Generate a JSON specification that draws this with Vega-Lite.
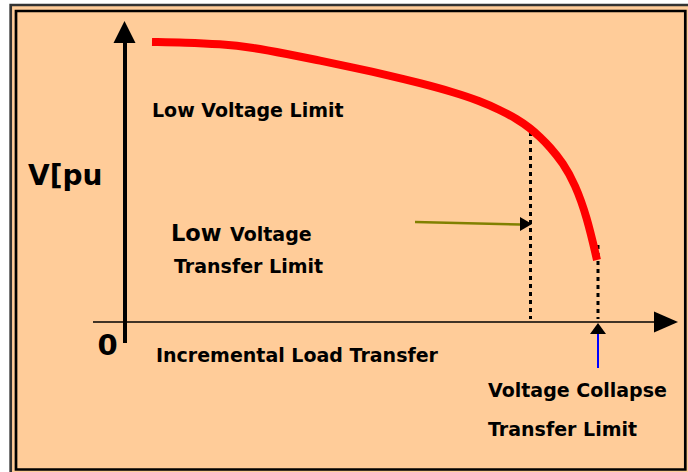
{
  "$schema": "https://vega.github.io/schema/vega-lite/v6.json",
  "width": 688,
  "height": 472,
  "padding": 0,
  "autosize": {"type": "fit", "contains": "padding"},
  "background": "white",
  "config": {"view": {"stroke": null}},
  "datasets": {
    "frameOuter": [{"load": -114.3, "v": 317, "load2": 600, "v2": -170}],
    "frameInner": [{"load": -109, "v": 311, "load2": 560.3, "v2": -147.5}],
    "limits": [
      {"name": "Low Voltage Transfer Limit", "load": 405.5, "v": 190, "load2": 405.5, "v2": 3},
      {"name": "Voltage Collapse Transfer Limit", "load": 473, "v": 77, "load2": 473, "v2": 3}
    ],
    "pv": [
      {"load": 27, "v": 280}, {"load": 60, "v": 279.5}, {"load": 95, "v": 278},
      {"load": 128, "v": 274.5}, {"load": 162, "v": 268}, {"load": 195, "v": 261.5},
      {"load": 228, "v": 254.5}, {"load": 262, "v": 247}, {"load": 295, "v": 239},
      {"load": 328, "v": 230}, {"load": 355, "v": 221}, {"load": 375, "v": 212},
      {"load": 392, "v": 203}, {"load": 405, "v": 194}, {"load": 415, "v": 185},
      {"load": 425, "v": 175}, {"load": 438, "v": 159}, {"load": 450, "v": 138},
      {"load": 462, "v": 105}, {"load": 472, "v": 62}
    ],
    "xAxis": [{"load": -32, "v": 0, "load2": 535, "v2": 0}],
    "yAxis": [{"load": 0, "v": -21, "load2": 0, "v2": 282}],
    "pointer": [{"load": 290, "v": 100, "load2": 395, "v2": 97.5}],
    "collapsePointer": [{"load": 473, "v": -12, "load2": 473, "v2": -46}],
    "headRight": [{"load": 541, "v": 0}],
    "headUp": [{"load": -0.5, "v": 290}],
    "headPointer": [{"load": 401, "v": 98}],
    "headCollapse": [{"load": 473, "v": -6.5}],
    "big": [
      {"label": "V[pu", "load": -97, "v": 137}
    ],
    "zero": [
      {"label": "0", "load": -17.5, "v": -33}
    ],
    "low": [
      {"label": "Low", "load": 46, "v": 81}
    ],
    "labels": [
      {"label": "Low Voltage Limit", "load": 27, "v": 205},
      {"label": "Voltage", "load": 105, "v": 81},
      {"label": "Transfer Limit", "load": 49, "v": 49},
      {"label": "Incremental Load Transfer", "load": 31, "v": -40},
      {"label": "Voltage Collapse", "load": 363, "v": -75},
      {"label": "Transfer Limit", "load": 363, "v": -114}
    ]
  },
  "layer": [
    {
      "data": {"name": "frameOuter"},
      "mark": {"type": "rect", "fill": "#FFCC99", "stroke": "#333333", "strokeWidth": 2.7, "clip": true},
      "encoding": {
        "x": {"field": "load", "type": "quantitative", "scale": {"domain": [-125, 563], "nice": false, "zero": false}, "axis": null},
        "x2": {"field": "load2"},
        "y": {"field": "v", "type": "quantitative", "scale": {"domain": [-150, 322], "nice": false, "zero": false}, "axis": null},
        "y2": {"field": "v2"}
      }
    },
    {
      "data": {"name": "frameInner"},
      "mark": {"type": "rect", "fill": null, "fillOpacity": 0, "stroke": "#000000", "strokeWidth": 2.7},
      "encoding": {
        "x": {"field": "load", "type": "quantitative", "scale": {"domain": [-125, 563], "nice": false, "zero": false}, "axis": null},
        "x2": {"field": "load2"},
        "y": {"field": "v", "type": "quantitative", "scale": {"domain": [-150, 322], "nice": false, "zero": false}, "axis": null},
        "y2": {"field": "v2"}
      }
    },
    {
      "data": {"name": "limits"},
      "mark": {"type": "rule", "color": "#000000", "strokeWidth": 3, "strokeDash": [4, 4]},
      "encoding": {
        "x": {"field": "load", "type": "quantitative", "scale": {"domain": [-125, 563], "nice": false, "zero": false}, "axis": null},
        "x2": {"field": "load2"},
        "y": {"field": "v", "type": "quantitative", "scale": {"domain": [-150, 322], "nice": false, "zero": false}, "axis": null},
        "y2": {"field": "v2"}
      }
    },
    {
      "data": {"name": "pv"},
      "mark": {"type": "line", "color": "#FF0000", "strokeWidth": 8, "interpolate": "basis", "strokeCap": "butt"},
      "encoding": {
        "x": {"field": "load", "type": "quantitative", "scale": {"domain": [-125, 563], "nice": false, "zero": false}, "axis": null},
        "y": {"field": "v", "type": "quantitative", "scale": {"domain": [-150, 322], "nice": false, "zero": false}, "axis": null}
      }
    },
    {
      "data": {"name": "xAxis"},
      "mark": {"type": "rule", "color": "#000000", "strokeWidth": 1.5},
      "encoding": {
        "x": {"field": "load", "type": "quantitative", "scale": {"domain": [-125, 563], "nice": false, "zero": false}, "axis": null},
        "x2": {"field": "load2"},
        "y": {"field": "v", "type": "quantitative", "scale": {"domain": [-150, 322], "nice": false, "zero": false}, "axis": null},
        "y2": {"field": "v2"}
      }
    },
    {
      "data": {"name": "yAxis"},
      "mark": {"type": "rule", "color": "#000000", "strokeWidth": 4},
      "encoding": {
        "x": {"field": "load", "type": "quantitative", "scale": {"domain": [-125, 563], "nice": false, "zero": false}, "axis": null},
        "x2": {"field": "load2"},
        "y": {"field": "v", "type": "quantitative", "scale": {"domain": [-150, 322], "nice": false, "zero": false}, "axis": null},
        "y2": {"field": "v2"}
      }
    },
    {
      "data": {"name": "pointer"},
      "mark": {"type": "rule", "color": "#808000", "strokeWidth": 2.5},
      "encoding": {
        "x": {"field": "load", "type": "quantitative", "scale": {"domain": [-125, 563], "nice": false, "zero": false}, "axis": null},
        "x2": {"field": "load2"},
        "y": {"field": "v", "type": "quantitative", "scale": {"domain": [-150, 322], "nice": false, "zero": false}, "axis": null},
        "y2": {"field": "v2"}
      }
    },
    {
      "data": {"name": "collapsePointer"},
      "mark": {"type": "rule", "color": "#0000FF", "strokeWidth": 2},
      "encoding": {
        "x": {"field": "load", "type": "quantitative", "scale": {"domain": [-125, 563], "nice": false, "zero": false}, "axis": null},
        "x2": {"field": "load2"},
        "y": {"field": "v", "type": "quantitative", "scale": {"domain": [-150, 322], "nice": false, "zero": false}, "axis": null},
        "y2": {"field": "v2"}
      }
    },
    {
      "data": {"name": "headRight"},
      "mark": {"type": "point", "filled": true, "color": "#000000", "opacity": 1, "strokeWidth": 0, "shape": "M-1,-0.875L1,0L-1,0.875Z", "size": 576},
      "encoding": {
        "x": {"field": "load", "type": "quantitative", "scale": {"domain": [-125, 563], "nice": false, "zero": false}, "axis": null},
        "y": {"field": "v", "type": "quantitative", "scale": {"domain": [-150, 322], "nice": false, "zero": false}, "axis": null}
      }
    },
    {
      "data": {"name": "headUp"},
      "mark": {"type": "point", "filled": true, "color": "#000000", "opacity": 1, "strokeWidth": 0, "shape": "M0,-1L1,1L-1,1Z", "size": 484},
      "encoding": {
        "x": {"field": "load", "type": "quantitative", "scale": {"domain": [-125, 563], "nice": false, "zero": false}, "axis": null},
        "y": {"field": "v", "type": "quantitative", "scale": {"domain": [-150, 322], "nice": false, "zero": false}, "axis": null}
      }
    },
    {
      "data": {"name": "headPointer"},
      "mark": {"type": "point", "filled": true, "color": "#000000", "opacity": 1, "strokeWidth": 0, "shape": "M-0.857,-1L0.857,0L-0.857,1Z", "size": 196},
      "encoding": {
        "x": {"field": "load", "type": "quantitative", "scale": {"domain": [-125, 563], "nice": false, "zero": false}, "axis": null},
        "y": {"field": "v", "type": "quantitative", "scale": {"domain": [-150, 322], "nice": false, "zero": false}, "axis": null}
      }
    },
    {
      "data": {"name": "headCollapse"},
      "mark": {"type": "point", "filled": true, "color": "#000000", "opacity": 1, "strokeWidth": 0, "shape": "M0,-0.6875L1,0.6875L-1,0.6875Z", "size": 256},
      "encoding": {
        "x": {"field": "load", "type": "quantitative", "scale": {"domain": [-125, 563], "nice": false, "zero": false}, "axis": null},
        "y": {"field": "v", "type": "quantitative", "scale": {"domain": [-150, 322], "nice": false, "zero": false}, "axis": null}
      }
    },
    {
      "data": {"name": "big"},
      "mark": {"type": "text", "font": "DejaVu Sans", "fontWeight": "bold", "fontSize": 28, "align": "left", "baseline": "alphabetic", "color": "#000000"},
      "encoding": {
        "x": {"field": "load", "type": "quantitative", "scale": {"domain": [-125, 563], "nice": false, "zero": false}, "axis": null},
        "y": {"field": "v", "type": "quantitative", "scale": {"domain": [-150, 322], "nice": false, "zero": false}, "axis": null},
        "text": {"field": "label"}
      }
    },
    {
      "data": {"name": "zero"},
      "mark": {"type": "text", "font": "DejaVu Sans", "fontWeight": "bold", "fontSize": 29, "align": "center", "baseline": "alphabetic", "color": "#000000"},
      "encoding": {
        "x": {"field": "load", "type": "quantitative", "scale": {"domain": [-125, 563], "nice": false, "zero": false}, "axis": null},
        "y": {"field": "v", "type": "quantitative", "scale": {"domain": [-150, 322], "nice": false, "zero": false}, "axis": null},
        "text": {"field": "label"}
      }
    },
    {
      "data": {"name": "low"},
      "mark": {"type": "text", "font": "DejaVu Sans", "fontWeight": "bold", "fontSize": 22.5, "align": "left", "baseline": "alphabetic", "color": "#000000"},
      "encoding": {
        "x": {"field": "load", "type": "quantitative", "scale": {"domain": [-125, 563], "nice": false, "zero": false}, "axis": null},
        "y": {"field": "v", "type": "quantitative", "scale": {"domain": [-150, 322], "nice": false, "zero": false}, "axis": null},
        "text": {"field": "label"}
      }
    },
    {
      "data": {"name": "labels"},
      "mark": {"type": "text", "font": "DejaVu Sans", "fontWeight": "bold", "fontSize": 19, "align": "left", "baseline": "alphabetic", "color": "#000000"},
      "encoding": {
        "x": {"field": "load", "type": "quantitative", "scale": {"domain": [-125, 563], "nice": false, "zero": false}, "axis": null},
        "y": {"field": "v", "type": "quantitative", "scale": {"domain": [-150, 322], "nice": false, "zero": false}, "axis": null},
        "text": {"field": "label"}
      }
    }
  ]
}
